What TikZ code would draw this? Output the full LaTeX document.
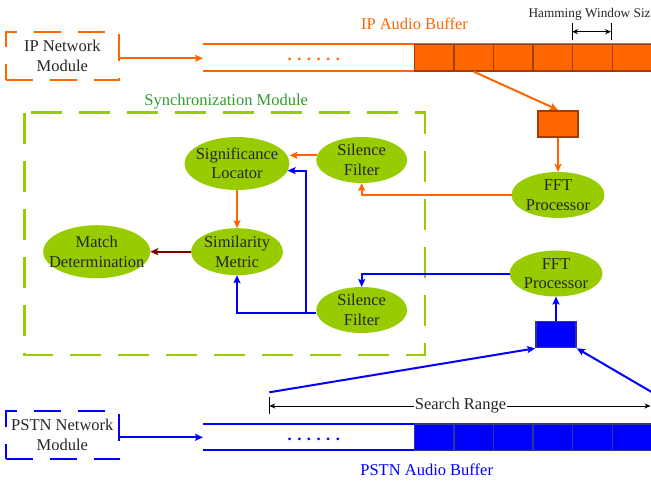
\documentclass[tikz,border=0pt]{standalone}
\usepackage{fontspec}
\setmainfont{Liberation Serif}
\usetikzlibrary{arrows.meta,shapes.geometric}
\definecolor{org}{HTML}{FF6600}
\definecolor{orgd}{HTML}{A33C00}
\definecolor{blu}{HTML}{0000FF}
\definecolor{blud}{HTML}{333399}
\definecolor{lime}{HTML}{99CC00}
\definecolor{grn}{HTML}{339933}
\definecolor{dred}{HTML}{800000}
\definecolor{txt}{HTML}{262626}
\begin{document}
\begin{tikzpicture}[x=1pt,y=-1pt,
  big/.style={font=\fontsize{16.5}{19.5}\selectfont},
  small/.style={font=\fontsize{13.3}{15}\selectfont},
  ell/.style={ellipse, fill=lime, inner sep=0pt, outer sep=0pt},
  etxt/.style={big, align=center, inner sep=0pt, text=txt},
  netbox/.style={rectangle, line width=2pt, dash pattern=on 27pt off 17pt, minimum width=113.3pt, minimum height=48.6pt, inner sep=0pt, big, align=center, text=txt},
  oline/.style={draw=org, line width=2pt},
  bline/.style={draw=blu, line width=2pt},
  tip/.style={-{Stealth[length=8pt,width=7pt,inset=1.5pt]}},
  oarr/.style={oline, tip},
  barr/.style={bline, tip},
  rarr/.style={draw=dred, line width=2pt, tip},
  karr/.style={draw=black, line width=0.9pt, {Stealth[length=6pt,width=5pt]}-{Stealth[length=6pt,width=5pt]}},
  cellO/.style={rectangle, fill=org, draw=orgd, line width=1.4pt, minimum width=39.6pt, minimum height=26.7pt, inner sep=0pt},
  cellB/.style={cellO, fill=blu, draw=blud},
  dots/.style={font=\fontsize{16.5}{19.5}\selectfont\bfseries, anchor=base west, inner sep=0pt},
]
\useasboundingbox (0,0) rectangle (651,480);

% ---------- IP side ----------
\node[netbox, draw=org] (ipnet) at (62.35,55.85) {IP Network\\Module};
\draw[oline] (203,44.3) -- (653,44.3);
\draw[oline] (203,70.9) -- (653,70.9);
\coordinate (ipin) at (203,58.3);
\draw[oarr] (ipnet.east |- ipin) -- (ipin);
\foreach \k in {1,...,6}
  \node[cellO] (ip\k) at ({414.3+39.6*(\k-0.5)},57.6) {};
\node[dots, text=org] (ipdots) at (287.5,60.5) {. . . . . .};
\node[big, text=org, anchor=base] (iplbl) at (414.5,29.3) {IP Audio Buffer};
\node[small, text=txt, anchor=base west, inner sep=0pt] (hamlbl) at (528.3,17.5) {Hamming Window Size};
\coordinate (hL) at (572,31.7);
\coordinate (hR) at (611,31.7);
\draw[karr] (hL) -- (hR);
\draw[black, line width=0.9pt] (572,22.7) -- (572,40) (611,22.7) -- (611,40);

\node[rectangle, fill=org, draw=orgd, line width=1.6pt, minimum width=40pt, minimum height=26pt, inner sep=0pt] (obox) at (558,123.7) {};
\draw[oarr] (ip2.south) -- (obox.north);
\node[ell, minimum width=93pt, minimum height=46pt, label={[etxt]center:FFT\\Processor}] (fftT) at (558,195) {};
\draw[oarr] (obox.south) -- (fftT.north);

% ---------- Synchronization module ----------
\draw[lime, line width=2.5pt, dash pattern=on 31pt off 17pt] (24.3,112.7) rectangle (425,355);
\node[big, text=grn, anchor=base] (synclbl) at (226.2,105) {Synchronization Module};

\node[ell, minimum width=105pt, minimum height=53pt, label={[etxt]center:Significance\\Locator}] (sig) at (237,163.5) {};
\node[ell, minimum width=92pt, minimum height=47pt, label={[etxt]center:Similarity\\Metric}] (sim) at (237,251.7) {};
\node[ell, minimum width=107pt, minimum height=53pt, label={[etxt]center:Match\\Determination}] (match) at (96.7,251.7) {};
\node[ell, minimum width=91pt, minimum height=46pt, label={[etxt]center:Silence\\Filter}] (silT) at (361.7,160) {};
\node[ell, minimum width=91pt, minimum height=46pt, label={[etxt]center:Silence\\Filter}] (silB) at (361.7,310) {};
\node[ell, minimum width=93pt, minimum height=46pt, label={[etxt]center:FFT\\Processor}] (fftB) at (556,273.5) {};

\draw[oarr] (silT.174) -- (silT.174 -| sig.east);
\draw[oarr] (fftT.west) -| (silT.south);
\draw[oarr] (sig.south) -- (sim.north);
\draw[rarr] (sim.west) -- (match.east);
\coordinate (bj) at (306,312.5);
\draw[barr] (silB.west |- bj) -- (bj) |- (sig.-8);
\draw[barr] (bj) -| (sim.south);
\draw[barr] (fftB.west) -| (silB.north);

% ---------- PSTN side ----------
\node[rectangle, fill=blu, draw=blud, line width=1.6pt, minimum width=40pt, minimum height=26pt, inner sep=0pt] (bbox) at (556,334.5) {};
\draw[barr] (bbox.north) -- (fftB.south);
\coordinate (sl) at (269.3,392.3);
\draw[barr] (sl) -- (bbox.south west);
\coordinate (sr) at (662,398.1);
\draw[barr] (sr) -- (bbox.south east);

\coordinate (srL) at (269.3,406);
\coordinate (srR) at (650.5,406);
\draw[karr] (srL) -- (srR);
\draw[black, line width=0.9pt] (269.3,397) -- (269.3,414);
\node[big, fill=white, inner sep=1pt, text=txt] (srlbl) at (460.5,406) {Search Range};

\node[netbox, draw=blu] (pnet) at (62.35,435) {PSTN Network\\Module};
\draw[bline] (203,424.3) -- (653,424.3);
\draw[bline] (203,450.3) -- (653,450.3);
\coordinate (pin) at (203,437.3);
\draw[barr] (pnet.east |- pin) -- (pin);
\foreach \k in {1,...,6}
  \node[cellB] (ps\k) at ({414.3+39.6*(\k-0.5)},437.3) {};
\node[dots, text=blu] (pdots) at (287.5,440.5) {. . . . . .};
\node[big, text=blu, anchor=base] (plbl) at (426.7,475) {PSTN Audio Buffer};
\end{tikzpicture}
\end{document}
